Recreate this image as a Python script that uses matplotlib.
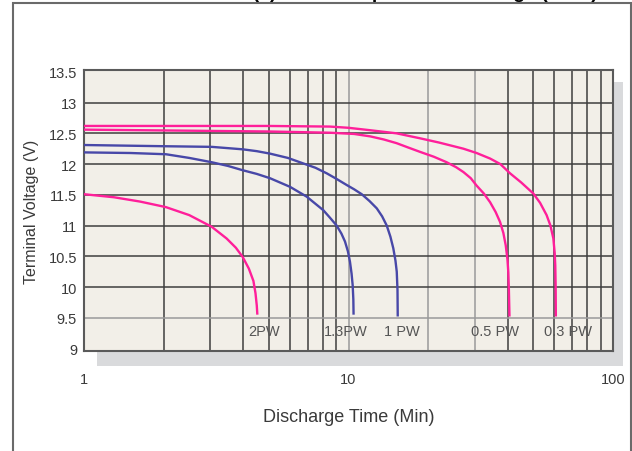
import matplotlib
matplotlib.use("Agg")
import matplotlib.pyplot as plt
from matplotlib.patches import Rectangle

plt.rcParams['font.family'] = ['Liberation Sans', 'DejaVu Sans']

# discharge curves, time in minutes vs terminal voltage
t_2pw = [1, 1.3, 1.63, 2.04, 2.5, 3.04, 3.46, 3.75, 3.98, 4.2, 4.37, 4.45, 4.5, 4.52]
v_2pw = [11.51, 11.46, 11.39, 11.30, 11.17, 10.98, 10.79, 10.64, 10.49, 10.30, 10.10, 9.9, 9.7, 9.57]

t_13pw = [1, 1.5, 2.04, 2.5, 3.04, 3.5, 3.98, 4.5, 5.05, 6.01, 6.95, 8.03, 8.5, 9.02,
          9.4, 9.7, 9.95, 10.13, 10.27, 10.37, 10.43, 10.45]
v_13pw = [12.19, 12.18, 12.16, 12.10, 12.03, 11.97, 11.90, 11.84, 11.77, 11.63, 11.47, 11.25, 11.13, 11.0,
          10.87, 10.74, 10.58, 10.41, 10.22, 10.03, 9.8, 9.57]

t_1pw = [1, 2.04, 3.04, 3.98, 4.5, 5.05, 5.9, 6.75, 7.5, 8.27, 9.0, 9.84, 10.5, 11.22, 12.0,
         12.79, 13.4, 13.95, 14.4, 14.77, 15.05, 15.22, 15.32, 15.35]
v_1pw = [12.31, 12.29, 12.28, 12.24, 12.21, 12.17, 12.10, 12.01, 11.94, 11.85, 11.76, 11.66, 11.59, 11.51, 11.40,
         11.28, 11.15, 11.0, 10.82, 10.63, 10.43, 10.25, 9.95, 9.54]

t_05pw = [1, 5, 8.5, 10.5, 12.1, 13.6, 15.2, 16.8, 18.6, 21, 23.5, 25.5, 27.2, 29, 30.5, 32.5, 34.3, 36,
          37.4, 38.5, 39.3, 39.9, 40.2, 40.4, 40.6]
v_05pw = [12.56, 12.53, 12.51, 12.49, 12.45, 12.40, 12.34, 12.27, 12.20, 12.12, 12.03, 11.95, 11.87, 11.77, 11.65, 11.52, 11.38, 11.22,
          11.06, 10.88, 10.68, 10.45, 10.24, 9.95, 9.54]

t_03pw = [1, 5, 8.5, 10, 12.1, 15.2, 18.6, 22, 27.2, 30.5, 34.3, 37.5, 40.8, 45, 50.0, 53,
          56.1, 58, 59.5, 60.2, 60.5, 60.7, 60.8]
v_03pw = [12.62, 12.62, 12.61, 12.59, 12.55, 12.50, 12.42, 12.35, 12.25, 12.18, 12.09, 12.0, 11.85, 11.70, 11.52, 11.37,
          11.17, 11.0, 10.79, 10.55, 10.35, 10.0, 9.54]

curve_names = ["2PW", "1.3PW", "1 PW", "0.5 PW", "0.3 PW"]
label_t = [4.79, 9.78, 15.9, 35.9, 67.6]

yticks = [9, 9.5, 10, 10.5, 11, 11.5, 12, 12.5, 13, 13.5]
ytick_labels = ["9", "9.5", "10", "10.5", "11", "11.5", "12", "12.5", "13", "13.5"]
xticks = [1, 10, 100]
xtick_labels = ["1", "10", "100"]

pink = "#ff1f9a"
blue = "#4848a8"
textc = "#3a3a3a"

W, H = 632, 452
fig = plt.figure(figsize=(W/100, H/100), dpi=100)

def px(x0, y0, x1, y1):
    # pixel box (top-left origin) -> figure fraction rect
    return [x0/W, 1 - y1/H, (x1-x0)/W, (y1-y0)/H]

# outer frame
fr = px(13, 4, 631, 470)
fig.patches.append(Rectangle((fr[0], fr[1]), fr[2], fr[3], transform=fig.transFigure,
                             fill=False, edgecolor="#6a6a6a", linewidth=1.5, clip_on=False,
                             zorder=-2))
# drop shadow behind plot
sh = px(97, 83, 623, 367)
fig.patches.append(Rectangle((sh[0], sh[1]), sh[2], sh[3], transform=fig.transFigure,
                             facecolor="#d9dadc", edgecolor="none", zorder=-1))

# clipped title at very top
fig.text(192/W, 1 + 2.5/H, "Curve (a) Constant power vs. Voltage (25\u00b0C)",
         fontsize=14, fontweight="bold", color="black", va="baseline", ha="left")

ax = fig.add_axes(px(84, 71, 613, 352))
ax.set_zorder(1)
ax.set_facecolor("#f2efe8")
ax.set_xscale("log")
ax.set_xlim(1, 100)
ax.set_ylim(8.96, 13.53)

# grid
dark = "#3e3e3e"
light = "#9a9a9a"
for d in [1, 10]:
    for m in range(2, 10):
        xv = d*m
        c = light if xv in (20, 30) else dark
        ax.axvline(xv, color=c, linewidth=1.1, zorder=1)
ax.axvline(10, color=light, linewidth=1.1, zorder=1)
for yv in [9.5, 10, 10.5, 11, 11.5, 12, 12.5, 13]:
    c = light if yv == 9.5 else dark
    ax.axhline(yv, color=c, linewidth=1.1, zorder=1)

for tt, vv, c in [(t_2pw, v_2pw, pink), (t_13pw, v_13pw, blue), (t_1pw, v_1pw, blue),
                  (t_05pw, v_05pw, pink), (t_03pw, v_03pw, pink)]:
    ax.plot(tt, vv, color=c, linewidth=1.7, zorder=3, solid_joinstyle="round")

for name, tx in zip(curve_names, label_t):
    ax.text(tx, 9.29, name, ha="center", va="center", fontsize=10.5, color="#555555", zorder=4)

for s in ax.spines.values():
    s.set_color("#5a5a5a")
    s.set_linewidth(1.5)

ax.set_xticks(xticks)
ax.set_xticklabels(xtick_labels)
ax.set_xticks([], minor=True)
ax.set_yticks(yticks)
ax.set_yticklabels(ytick_labels)
ax.tick_params(axis="both", length=0, labelsize=10.5, labelcolor=textc)
ax.tick_params(axis="x", pad=15)
ax.tick_params(axis="y", pad=5)

ax.set_xlabel("Discharge Time (Min)", fontsize=13, color=textc, labelpad=16)
ax.set_ylabel("Terminal Voltage (V)", fontsize=11.5, color=textc, labelpad=7)

fig.savefig("out.png", dpi=100)
